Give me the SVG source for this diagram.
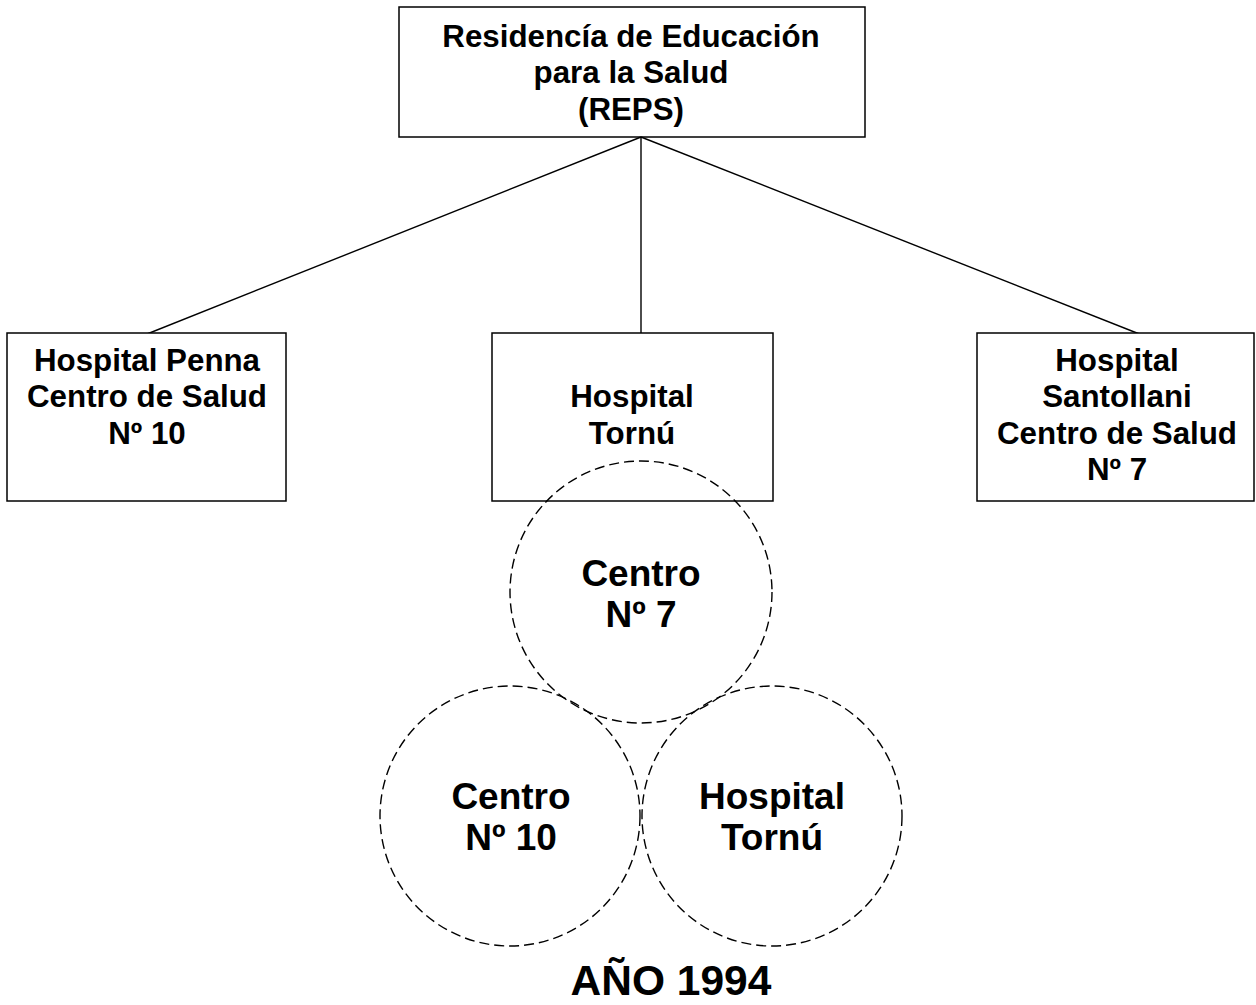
<svg xmlns="http://www.w3.org/2000/svg" width="1256" height="1005" viewBox="0 0 1256 1005">
<style>
.box{fill:#fff;stroke:#000;stroke-width:1.5}
.circ{fill:none;stroke:#000;stroke-width:1.4;stroke-dasharray:10 5}
.t{font-family:"Liberation Sans",Arial,sans-serif;font-weight:bold;font-size:31.3px;text-anchor:middle;fill:#000}
.tc{font-size:37px}
.ty{font-size:42.5px}
.conn line{stroke:#000;stroke-width:1.4}
</style>
<rect width="1256" height="1005" fill="#fff"/>
<g id="reps">
<rect class="box" x="399" y="7" width="466" height="130"/>
<text class="t" x="631" y="47">Residencía de Educación</text>
<text class="t" x="631" y="83">para la Salud</text>
<text class="t" x="631" y="120">(REPS)</text>
</g>
<g id="connectors" class="conn">
<line x1="641" y1="137" x2="137" y2="338"/>
<line x1="641" y1="137" x2="641" y2="338"/>
<line x1="641" y1="137" x2="1147" y2="337"/>
</g>
<g id="penna">
<rect class="box" x="7" y="333" width="279" height="168"/>
<text class="t" x="147" y="371">Hospital Penna</text>
<text class="t" x="147" y="407">Centro de Salud</text>
<text class="t" x="147" y="444">Nº 10</text>
</g>
<g id="tornu">
<rect class="box" x="492" y="333" width="281" height="168"/>
<text class="t" x="632" y="407">Hospital</text>
<text class="t" x="632" y="444">Tornú</text>
</g>
<g id="santollani">
<rect class="box" x="977" y="333" width="277" height="168"/>
<text class="t" x="1117" y="371">Hospital</text>
<text class="t" x="1117" y="407">Santollani</text>
<text class="t" x="1117" y="444">Centro de Salud</text>
<text class="t" x="1117" y="480">Nº 7</text>
</g>
<g id="c7">
<circle class="circ" cx="641" cy="592" r="131"/>
<text class="t tc" x="641" y="586">Centro</text>
<text class="t tc" x="641" y="627">Nº 7</text>
</g>
<g id="c10">
<circle class="circ" cx="510" cy="816" r="130"/>
<text class="t tc" x="511" y="809">Centro</text>
<text class="t tc" x="511" y="850">Nº 10</text>
</g>
<g id="ht">
<circle class="circ" cx="772" cy="816" r="130"/>
<text class="t tc" x="772" y="809">Hospital</text>
<text class="t tc" x="772" y="850">Tornú</text>
</g>
<g id="year">
<text class="t ty" x="671" y="995">AÑO 1994</text>
</g>
</svg>
